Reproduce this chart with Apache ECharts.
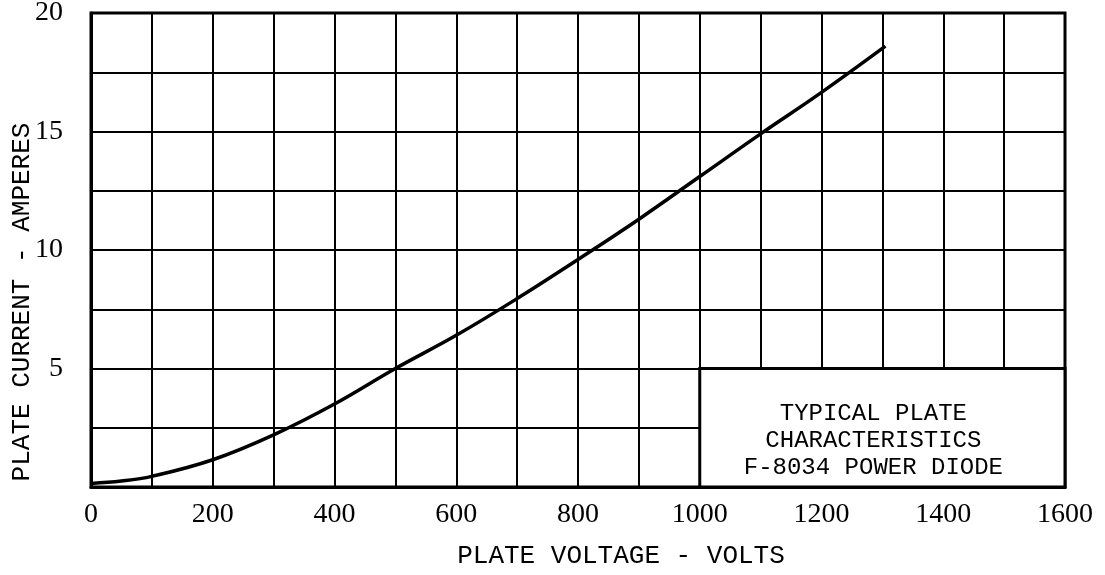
<!DOCTYPE html>
<html>
<head>
<meta charset="utf-8">
<script src="https://cdn.jsdelivr.net/npm/echarts@6/dist/echarts.min.js"></script>
<style>
html,body{margin:0;padding:0;background:#fff;}
#chart{width:1105px;height:575px;}
</style>
</head>
<body>
<div id="chart"></div>
<script>
// Data
var voltage = [0, 50, 100, 200, 300, 400, 500, 600, 700, 800, 900, 1000, 1100, 1200, 1305];
var current = [0.15, 0.25, 0.45, 1.15, 2.2, 3.5, 5.0, 6.4, 7.95, 9.6, 11.3, 13.1, 14.9, 16.65, 18.6];
var xTickLabels = ['0', '200', '400', '600', '800', '1000', '1200', '1400', '1600'];
var yTickLabels = ['5', '10', '15', '20'];
var noteBoxX = [1000, 1600];
var noteBoxY = [0, 5];
var noteLines = ['TYPICAL PLATE', 'CHARACTERISTICS', 'F-8034 POWER DIODE'];

var points = voltage.map(function (v, i) { return [v, current[i]]; });

var chart = echarts.init(document.getElementById('chart'), null, {renderer: 'canvas'});
chart.setOption({
  animation: false,
  backgroundColor: '#ffffff',
  grid: {
    left: 91, right: 40, top: 13, bottom: 88,
    outerBoundsMode: 'none', containLabel: false,
    show: true, borderColor: '#000', borderWidth: 3, backgroundColor: 'transparent'
  },
  xAxis: {
    type: 'value', min: 0, max: 1600, interval: 100,
    name: 'PLATE VOLTAGE - VOLTS',
    nameLocation: 'middle', nameGap: 56,
    nameTextStyle: {fontFamily: 'Liberation Mono', fontSize: 26, color: '#000', padding: [0, 0, 0, 86]},
    axisLine: {show: true, lineStyle: {color: '#000', width: 3}},
    axisTick: {show: false},
    splitLine: {show: true, lineStyle: {color: '#000', width: 2}},
    axisLabel: {
      margin: 14, color: '#000', fontFamily: 'Liberation Serif', fontSize: 28,
      formatter: function (v) { var s = String(v); return xTickLabels.indexOf(s) >= 0 ? s : ''; }
    }
  },
  yAxis: {
    type: 'value', min: 0, max: 20, interval: 2.5,
    name: 'PLATE CURRENT - AMPERES',
    nameLocation: 'middle', nameGap: 56, nameRotate: 90,
    nameMoveOverlap: false,
    nameTextStyle: {fontFamily: 'Liberation Mono', fontSize: 26, color: '#000', padding: [0, 104, 0, 0]},
    axisLine: {show: true, lineStyle: {color: '#000', width: 3}},
    axisTick: {show: false},
    splitLine: {show: true, lineStyle: {color: '#000', width: 2}},
    axisLabel: {
      margin: 28, color: '#000', fontFamily: 'Liberation Serif', fontSize: 28,
      formatter: function (v) { var s = String(v); return yTickLabels.indexOf(s) >= 0 ? s : ''; }
    }
  },
  series: [{
    type: 'line',
    data: points,
    smooth: 0.4,
    showSymbol: false,
    lineStyle: {color: '#000', width: 3.5},
    z: 3,
    markArea: {
      silent: true,
      itemStyle: {color: '#fff', borderColor: '#000', borderWidth: 3},
      label: {
        show: true, position: 'inside', offset: [-9, 13],
        color: '#000', fontFamily: 'Liberation Mono', fontSize: 24, lineHeight: 27,
        align: 'center'
      },
      data: [[
        {name: noteLines.join('\n'), xAxis: noteBoxX[0], yAxis: noteBoxY[0]},
        {xAxis: noteBoxX[1], yAxis: noteBoxY[1]}
      ]]
    }
  }]
});
</script>
</body>
</html>
